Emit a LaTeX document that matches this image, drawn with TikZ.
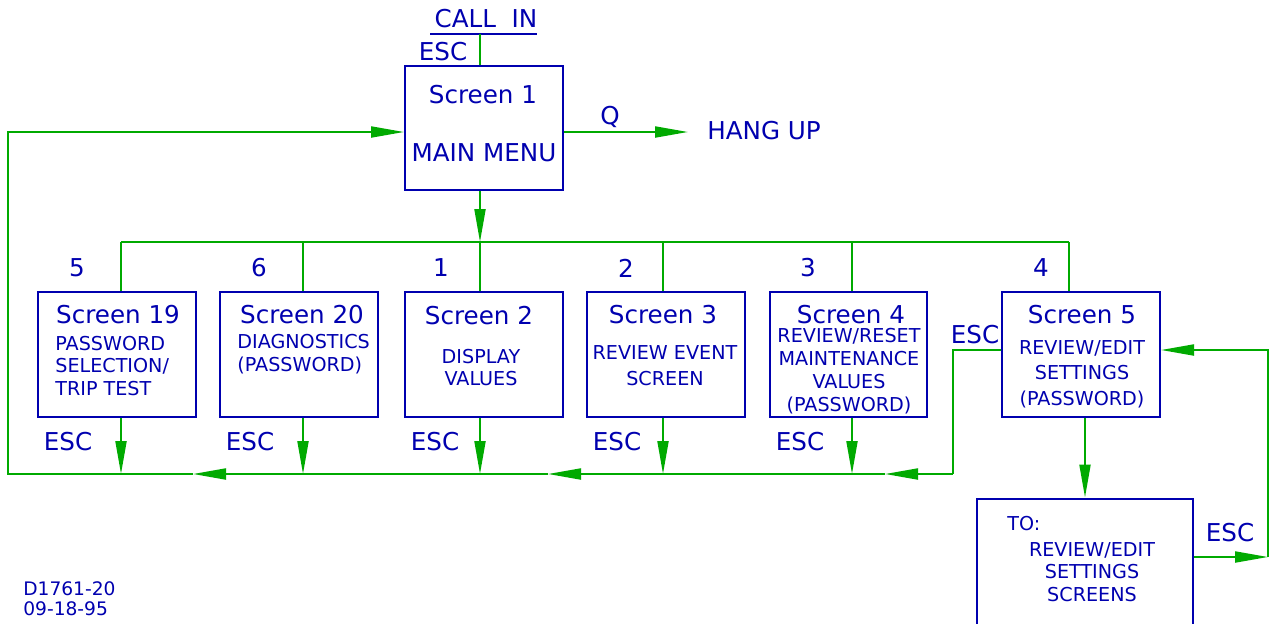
\documentclass[tikz,border=0pt]{standalone}
\usepackage{fontspec}
\setmainfont{DejaVu Sans}
\usepackage{tikz}
\usetikzlibrary{arrows.meta}

\definecolor{inkblue}{RGB}{0,0,175}
\definecolor{wiregreen}{RGB}{0,170,0}
\newcommand{\bigfont}{\fontsize{14}{17}\selectfont}
\newcommand{\smallfont}{\fontsize{10.9}{13}\selectfont}
\tikzset{
  screenbox/.style={draw=inkblue,line width=0.4mm,minimum width=31.6mm,minimum height=25mm,inner sep=0pt},
  bigtext/.style={text=inkblue,font=\bigfont,inner sep=0pt},
  smalltext/.style={text=inkblue,font=\smallfont,inner sep=0pt,align=center},
  wire/.style={draw=wiregreen,line width=0.4mm},
  arrowed/.style={wire,-{Triangle[length=6.6mm,width=2.2mm]}}
}

\begin{document}
\begin{tikzpicture}[x=0.2mm,y=-0.2mm]
	\useasboundingbox (0,0) rectangle (1274,624);
	% main menu
	\node[bigtext] (callin) at (486,19) {CALL\ \ IN};
	\draw[draw=inkblue,line width=0.4mm] (430,34) -- (537,34);
	\coordinate (callbar) at (480,34);
	\node[bigtext] (esc0) at (443,52) {ESC};
	\node[screenbox,minimum height=24.8mm] (s1) at (484,128) {};
	\node[bigtext] (s1title) at (483,95) {Screen 1};
	\node[bigtext] (s1text) at (484,153) {MAIN MENU};
	\draw[wire] (callbar) -- (s1.north -| callbar);
	\coordinate (hu) at (688,132);
	\node[bigtext] (q) at (610,117) {Q};
	\node[bigtext,anchor=west] (hangup) at (707,131) {HANG UP};
	\draw[arrowed] (s1.east |- hu) -- (hu);
	% branch bus
	\coordinate (t19) at (121,242);
	\coordinate (t20) at (303,242);
	\coordinate (t2) at (480,242);
	\coordinate (t3) at (663,242);
	\coordinate (t4) at (852,242);
	\coordinate (t5) at (1069,242);
	\draw[arrowed] (s1.south -| t2) -- (t2);
	\draw[wire] (t19) -- (t5);
	\node[bigtext] (n5) at (77,268) {5};
	\node[bigtext] (n6) at (259,268) {6};
	\node[bigtext] (n1) at (441,268) {1};
	\node[bigtext] (n2) at (626,268) {2};
	\node[bigtext] (n3) at (808,268) {3};
	\node[bigtext] (n4) at (1041,268) {4};
	% screens
	\node[screenbox] (s19) at (117,354.5) {};
	\node[bigtext] (s19title) at (118,315) {Screen 19};
	\node[smalltext,align=left,anchor=west] (s19text) at (55,366) {PASSWORD\\SELECTION/\\TRIP TEST};
	\node[screenbox] (s20) at (299,354.5) {};
	\node[bigtext] (s20title) at (302,315) {Screen 20};
	\node[smalltext,align=left,anchor=west] (s20text) at (237,354.5) {DIAGNOSTICS\\(PASSWORD)};
	\node[screenbox] (s2) at (484,354.5) {};
	\node[bigtext] (s2title) at (479,316) {Screen 2};
	\node[smalltext] (s2text) at (481,367.5) {DISPLAY\\VALUES};
	\node[screenbox] (s3) at (666,354.5) {};
	\node[bigtext] (s3title) at (663,315) {Screen 3};
	\node[smalltext] (s3text) at (665,366) {REVIEW EVENT\\[1.8pt]SCREEN};
	\node[screenbox,minimum width=31.4mm] (s4) at (848.5,354.5) {};
	\node[bigtext] (s4title) at (851,315) {Screen 4};
	\node[smalltext] (s4text) at (849,371) {REVIEW/RESET\\MAINTENANCE\\VALUES\\(PASSWORD)};
	\node[screenbox] (s5) at (1081,354.5) {};
	\node[bigtext] (s5title) at (1082,315) {Screen 5};
	\node[smalltext] (s5text) at (1082,374) {REVIEW/EDIT\\[1.5pt]SETTINGS\\[1.5pt](PASSWORD)};
	\node[screenbox,minimum width=43.2mm,minimum height=25.6mm] (to) at (1085,562.5) {};
	\node[smalltext,anchor=west] (totitle) at (1007,524) {TO:};
	\node[smalltext] (totext) at (1092,572) {REVIEW/EDIT\\SETTINGS\\SCREENS};
	\draw[wire] (t19) -- (s19.north -| t19);
	\draw[wire] (t20) -- (s20.north -| t20);
	\draw[wire] (t2) -- (s2.north -| t2);
	\draw[wire] (t3) -- (s3.north -| t3);
	\draw[wire] (t4) -- (s4.north -| t4);
	\draw[wire] (t5) -- (s5.north -| t5);
	% escape paths
	\coordinate (e19) at (121,474);
	\coordinate (e20) at (303,474);
	\coordinate (e2) at (480,474);
	\coordinate (e3) at (663,474);
	\coordinate (e4) at (852,474);
	\draw[arrowed] (s19.south -| e19) -- (e19);
	\draw[arrowed] (s20.south -| e20) -- (e20);
	\draw[arrowed] (s2.south -| e2) -- (e2);
	\draw[arrowed] (s3.south -| e3) -- (e3);
	\draw[arrowed] (s4.south -| e4) -- (e4);
	\node[bigtext] (esc19) at (68,442) {ESC};
	\node[bigtext] (esc20) at (250,442) {ESC};
	\node[bigtext] (esc2) at (435,442) {ESC};
	\node[bigtext] (esc3) at (617,442) {ESC};
	\node[bigtext] (esc4) at (800,442) {ESC};
	\node[bigtext] (esc5) at (975,335) {ESC};
	\coordinate (j5) at (953,350);
	\coordinate (r5) at (953,474);
	\coordinate (a3) at (885,474);
	\coordinate (a2) at (548,474);
	\coordinate (a1) at (193,474);
	\coordinate (lb) at (8,474);
	\coordinate (lt) at (8,132);
	\draw[wire] (s5.west |- j5) -- (j5) -- (r5);
	\draw[arrowed] (r5) -- (a3);
	\draw[arrowed] (a3) -- (a2);
	\draw[arrowed] (a2) -- (a1);
	\draw[arrowed] (a1) -- (lb) -- (lt) -- (s1.west |- lt);
	% settings screens
	\draw[arrowed] (to.north |- s5.south) -- (to.north);
	\coordinate (k1) at (1268,557);
	\coordinate (k2) at (1268,350);
	\node[bigtext] (escto) at (1230,533) {ESC};
	\draw[arrowed] (to.east |- k1) -- (k1);
	\draw[arrowed] (k1) -- (k2) -- (s5.east |- k2);
	\node[smalltext,align=left,anchor=west,font=\fontsize{10.6}{11.4}\selectfont] (drawno) at (23,599) {D1761-20\\09-18-95};
\end{tikzpicture}
\end{document}
